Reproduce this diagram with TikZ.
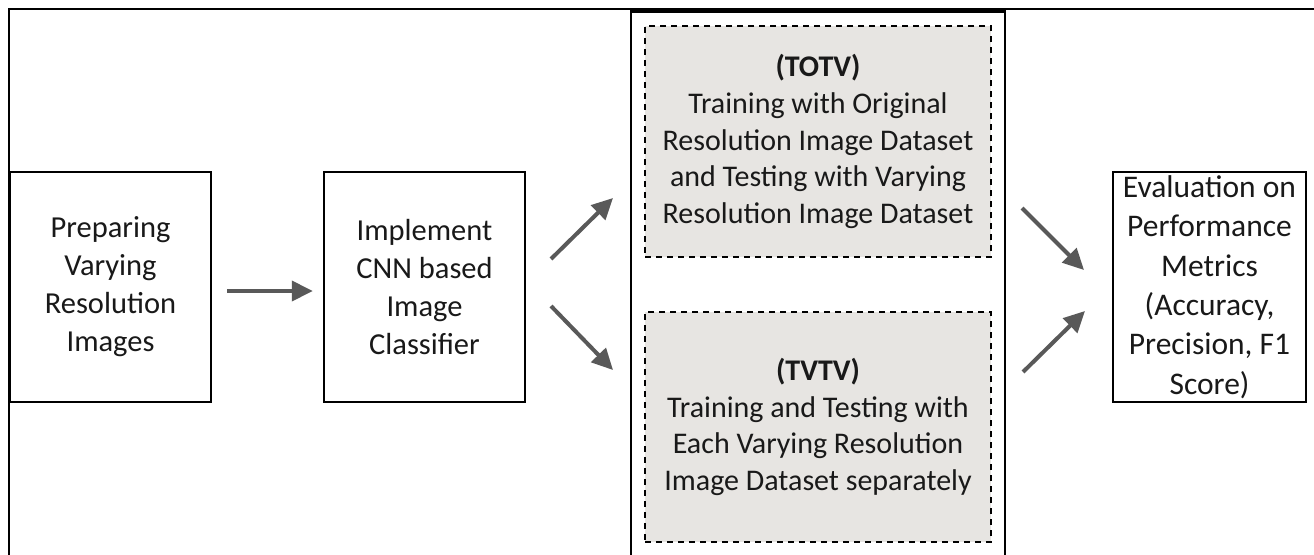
\documentclass[tikz,border=0pt]{standalone}
\usepackage{fontspec}
\setmainfont{Carlito}
\usetikzlibrary{arrows.meta}
\definecolor{arrowgrey}{RGB}{89,89,89}
\definecolor{boxgrey}{RGB}{231,229,226}
\definecolor{txt}{RGB}{25,25,25}
\begin{document}
\begin{tikzpicture}[x=1pt,y=-1pt,
  solidbox/.style={draw=black, line width=2.5pt, align=center, text=txt, inner sep=0pt,
    minimum width=201pt, minimum height=230pt, font=\fontsize{30.5}{38}\selectfont},
  evalbox/.style={solidbox, minimum width=193pt, font=\fontsize{31.5}{39.4}\selectfont},
  dashbox/.style={draw=black, fill=boxgrey, line width=2.5pt, dash pattern=on 6pt off 5pt,
    align=center, text=txt, inner sep=0pt, minimum width=346pt, minimum height=231pt,
    font=\fontsize{30}{36.6}\selectfont},
  groupbox/.style={draw=black, line width=2.5pt, inner sep=0pt, minimum width=374pt, minimum height=600pt},
  frame/.style={draw=black, line width=1.5pt, inner sep=0pt, minimum width=1340pt, minimum height=600pt},
  flow/.style={draw=arrowgrey, line width=4pt, -{Triangle[length=21pt,width=20pt]}}]
\useasboundingbox (0,0) rectangle (1314,554);
\fill[white] (0,0) rectangle (1314,554);
\clip (0,0) rectangle (1314,554);
% outer frame (only top and left edges visible)
\node[frame, anchor=north west] (outer) at (8,8) {};
% group box around the two strategies
\node[groupbox, anchor=north] (group) at (818,10) {};
% process boxes
\node[solidbox] (prep) at (110.5,287) {Preparing\\Varying\\Resolution\\Images};
\node[solidbox] (cnn) at (424.5,287) {Implement\\CNN based\\Image\\Classifier};
\node[evalbox] (eval) at (1209.5,287) {Evaluation on\\Performance\\Metrics\\(Accuracy,\\Precision, F1\\Score)};
% strategy boxes
\node[dashbox] (totv) at (818,141.5) {\textbf{(TOTV)}\\Training with Original\\Resolution Image Dataset\\and Testing with Varying\\Resolution Image Dataset};
\node[dashbox, minimum height=230pt] (tvtv) at (818,427) {\textbf{(TVTV)}\\Training and Testing with\\Each Varying Resolution\\Image Dataset separately};
% arrow end points
\coordinate (c1s) at (551,259);
\coordinate (c1e) at (613,198);
\coordinate (c2s) at (551,306);
\coordinate (c2e) at (613,370);
\coordinate (e1s) at (1022,208);
\coordinate (e1e) at (1084,270);
\coordinate (e2s) at (1023,372);
\coordinate (e2e) at (1085,311);
% connectors
\draw[flow, shorten <=15pt, shorten >=10pt] (prep.east |- 0,291) -- (cnn.west |- 0,291);
\draw[flow] (c1s) -- (c1e);
\draw[flow] (c2s) -- (c2e);
\draw[flow] (e1s) -- (e1e);
\draw[flow] (e2s) -- (e2e);
\end{tikzpicture}
\end{document}
